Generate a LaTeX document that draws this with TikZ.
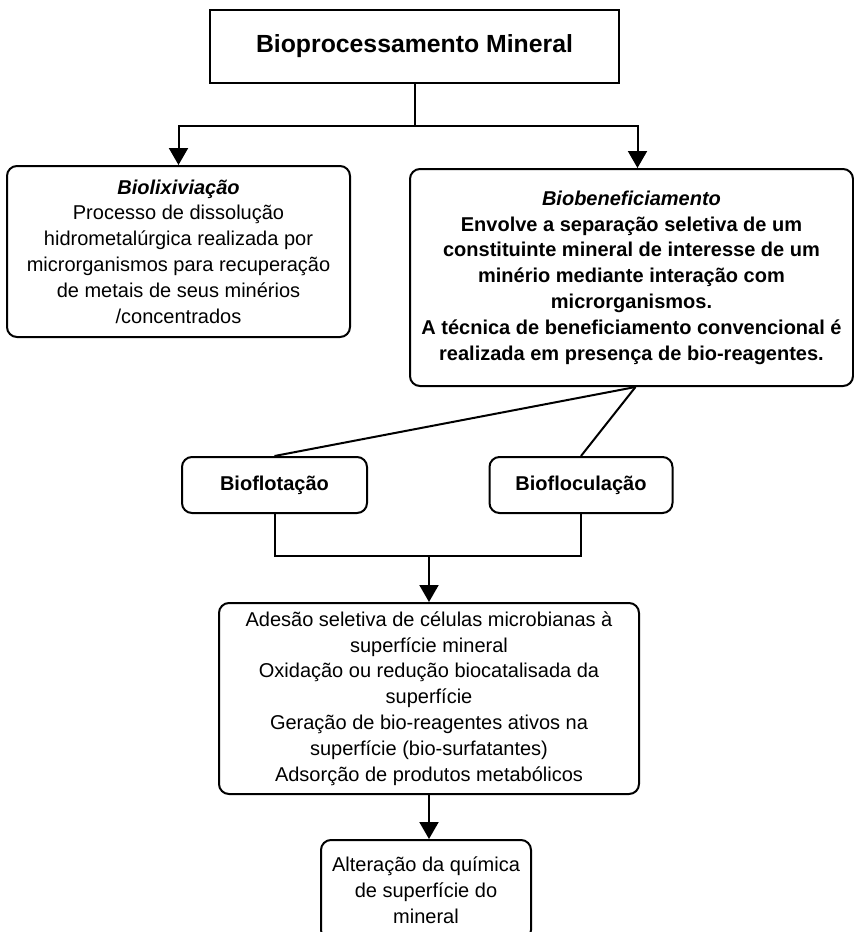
\documentclass[tikz,border=0pt]{standalone}
\usepackage{fontspec}
\setmainfont{Liberation Sans}
\usetikzlibrary{positioning,
        arrows.meta}

\begin{document}
\begin{tikzpicture}[x=0.5pt,y=-0.5pt,line width=1pt,
        caixa/.style={draw,rounded corners=5pt,align=center,inner sep=0pt,font=\fontsize{10}{12.9}\selectfont},
        negrito/.style={font=\fontsize{10}{12.9}\selectfont\bfseries},
        seta/.style={-{Triangle[length=8.5pt,width=9.5pt]}}]
            \useasboundingbox (0,0) rectangle (854,932);

            \node [draw,minimum width=204.5pt,minimum height=36.5pt,font=\fontsize{12.4}{14}\selectfont\bfseries] (bioproc) at (414.5,46.5) {Bioprocessamento Mineral};
            \node [caixa,minimum width=171.5pt,minimum height=85.5pt] (lix) at (178.5,251.5) {\textbf{\textit{Biolixivia\c{c}\~ao}}\\Processo de dissolu\c{c}\~ao\\hidrometal\'urgica realizada por\\microrganismos para recupera\c{c}\~ao\\de metais de seus min\'erios\\/concentrados};
            \node [caixa,negrito,minimum width=221.5pt,minimum height=108.5pt] (benef) at (631.5,277.5) {\textit{Biobeneficiamento}\\Envolve a separa\c{c}\~ao seletiva de um\\constituinte mineral de interesse de um\\min\'erio mediante intera\c{c}\~ao com\\microrganismos.\\A t\'ecnica de beneficiamento convencional \'e\\realizada em presen\c{c}a de bio-reagentes.};
            \node [caixa,negrito,minimum width=92.5pt,minimum height=28pt] (flot) at (274.5,485) {Bioflota\c{c}\~ao};
            \node [caixa,negrito,minimum width=91.5pt,minimum height=28pt] (floc) at (581,485) {Bioflocula\c{c}\~ao};
            \node [caixa,minimum width=210pt,minimum height=95.5pt] (mec) at (429,698.5) {Ades\~ao seletiva de c\'elulas microbianas \`a\\superf\'icie mineral\\Oxida\c{c}\~ao ou redu\c{c}\~ao biocatalisada da\\superf\'icie\\Gera\c{c}\~ao de bio-reagentes ativos na\\superf\'icie (bio-surfatantes)\\Adsor\c{c}\~ao de produtos metab\'olicos};
            \node [caixa,minimum width=105pt,minimum height=50pt] (alter) at (426,890) {Altera\c{c}\~ao da qu\'imica\\de superf\'icie do\\mineral};

            \coordinate (div) at (414.5,126);
            \coordinate (junta) at (429,556);

            \draw (bioproc.south) -- (div);
            \draw [seta] (div) -| (lix.north);
            \draw [seta] (div) -| ([xshift=3pt]benef.north);
            \draw ([xshift=2pt]benef.south) -- (flot.north);
            \draw ([xshift=2pt]benef.south) -- (floc.north);
            \draw (flot.south) |- (junta) -| (floc.south);
            \draw [seta] (junta) -- (mec.north);
            \draw [seta] (mec.south) -- (mec.south |- alter.north);
        \end{tikzpicture}
\end{document}
